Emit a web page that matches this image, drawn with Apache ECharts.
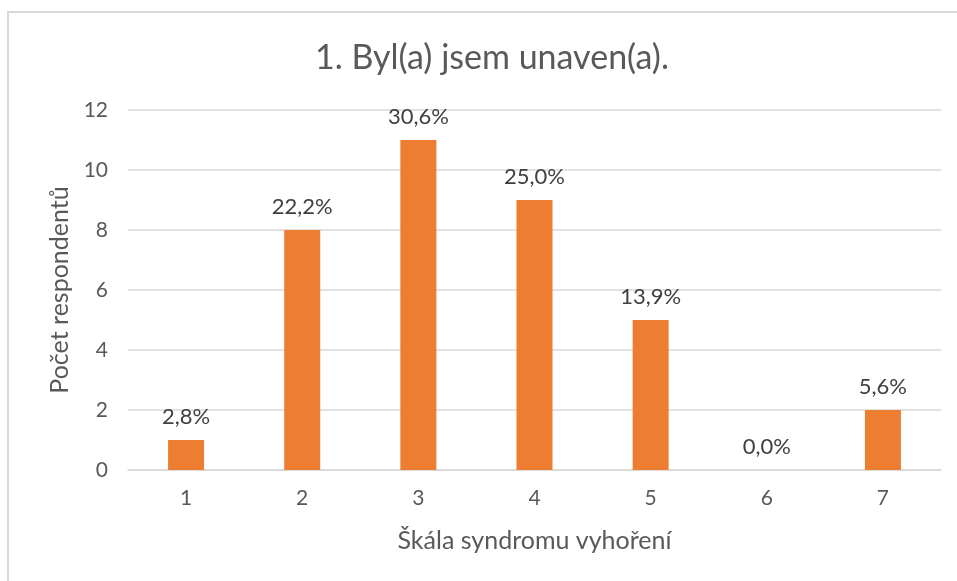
<!DOCTYPE html>
<html>
<head>
<meta charset="utf-8">
<script src="https://cdn.jsdelivr.net/npm/echarts@6/dist/echarts.min.js"></script>
<style>
  body { margin: 0; background: #fff; }
  #frame {
    position: absolute; left: 7px; top: 11px; width: 1000px; height: 600px;
    border-left: 2px solid #d9d9d9; border-top: 2px solid #d9d9d9;
  }
  #main { position: absolute; left: 0; top: 0; width: 957px; height: 581px; }
</style>
</head>
<body>
<div id="frame"></div>
<div id="main"></div>
<script>
// data
var categories = ["1", "2", "3", "4", "5", "6", "7"];
var counts = [1, 8, 11, 9, 5, 0, 2];
var percentLabels = ["2,8%", "22,2%", "30,6%", "25,0%", "13,9%", "0,0%", "5,6%"];

var myChart = echarts.init(document.getElementById("main"));
var font = "Lato, 'Open Sans', sans-serif";

var option = {
  title: {
    text: "1. Byl(a) jsem unaven(a).",
    left: 487,
    textAlign: "center",
    top: 36,
    textStyle: { fontFamily: font, fontSize: 34, fontWeight: "normal", color: "#595959" }
  },
  grid: { left: 128, right: 16, top: 110, bottom: 111 },
  xAxis: {
    type: "category",
    data: categories,
    name: "Škála syndromu vyhoření",
    nameLocation: "middle",
    nameGap: 58,
    nameTextStyle: { fontFamily: font, fontSize: 25, color: "#595959" },
    axisLine: { lineStyle: { color: "#d9d9d9", width: 1.5 } },
    axisTick: { show: false },
    axisLabel: { fontFamily: font, fontSize: 21, color: "#595959", margin: 18 }
  },
  yAxis: {
    type: "value",
    min: 0,
    max: 12,
    interval: 2,
    name: "Počet respondentů",
    nameLocation: "middle",
    nameGap: 54,
    nameTextStyle: { fontFamily: font, fontSize: 25, color: "#595959" },
    axisLine: { show: false },
    axisTick: { show: false },
    axisLabel: { fontFamily: font, fontSize: 21, color: "#595959", margin: 20 },
    splitLine: { lineStyle: { color: "#d9d9d9", width: 1.5 } }
  },
  series: [
    {
      type: "bar",
      data: counts,
      barWidth: 36,
      itemStyle: { color: "#ED7D31" },
      label: {
        show: true,
        position: "top",
        distance: 12,
        fontFamily: font,
        fontSize: 22,
        color: "#404040",
        formatter: function (p) { return percentLabels[p.dataIndex]; }
      }
    }
  ],
  animation: false
};

myChart.setOption(option);
</script>
</body>
</html>
